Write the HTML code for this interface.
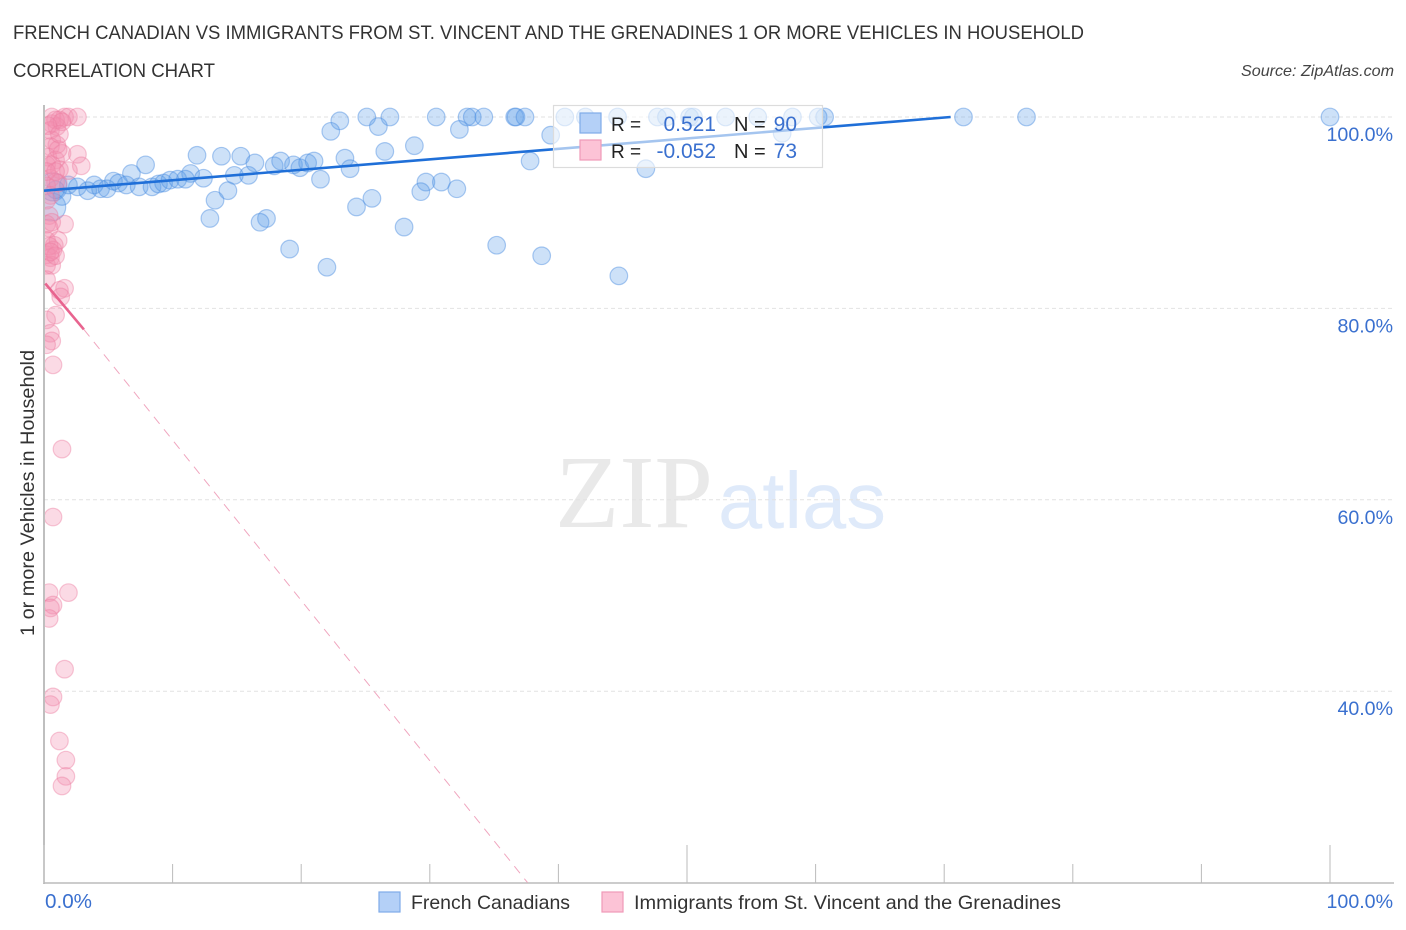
<!DOCTYPE html>
<html lang="en">
<head>
<meta charset="utf-8">
<title>French Canadian vs Immigrants Correlation Chart</title>
<style>
html,body{margin:0;padding:0;background:#fff;width:1406px;height:930px;overflow:hidden}
svg{display:block;font-family:"Liberation Sans",sans-serif}
</style>
</head>
<body>
<svg id="chart" width="1406" height="930" viewBox="0 0 1406 930">
  <defs>
    <clipPath id="plot-clip"><rect x="45" y="90" width="1361" height="793"/></clipPath>
  </defs>
  <text x="13" y="39" font-size="19" fill="#333" textLength="1071" lengthAdjust="spacingAndGlyphs">FRENCH CANADIAN VS IMMIGRANTS FROM ST. VINCENT AND THE GRENADINES 1 OR MORE VEHICLES IN HOUSEHOLD</text>
  <text x="13" y="77" font-size="19" fill="#333" textLength="202" lengthAdjust="spacingAndGlyphs">CORRELATION CHART</text>
  <text x="1394" y="76" font-size="16" font-style="italic" fill="#444" text-anchor="end" textLength="153" lengthAdjust="spacingAndGlyphs">Source: ZipAtlas.com</text>

  <g>
    <text x="555" y="527" font-family="'Liberation Serif',serif" font-size="104" fill="#e9e9e9" textLength="158" lengthAdjust="spacingAndGlyphs">ZIP</text>
    <text x="718" y="528" font-family="'Liberation Sans',sans-serif" font-size="80" fill="#dfeafa" textLength="168" lengthAdjust="spacingAndGlyphs">atlas</text>
  </g>

  <g id="grid"></g>
  <g id="axes"></g>
  <g id="blue-points" clip-path="url(#plot-clip)"></g>
  <g id="pink-points" clip-path="url(#plot-clip)"></g>
  <g id="trends"></g>

  <g>
    <rect x="553.5" y="105.5" width="269" height="62" fill="#fff" fill-opacity="0.6" stroke="#dcdcdc" stroke-width="1.2"/>
    <rect x="580" y="113" width="21" height="20" fill="#b4d0f7" stroke="#7fabe8" stroke-width="1.2"/>
    <rect x="580" y="140" width="21" height="20" fill="#fcc3d6" stroke="#f09ab8" stroke-width="1.2"/>
    <text x="611" y="131" font-size="19" fill="#222">R =</text>
    <text x="716" y="131" font-size="21" fill="#3a70cf" text-anchor="end">0.521</text>
    <text x="734" y="131" font-size="20" fill="#222">N =</text>
    <text x="797" y="131" font-size="21" fill="#3a70cf" text-anchor="end">90</text>
    <text x="611" y="158" font-size="19" fill="#222">R =</text>
    <text x="716" y="158" font-size="21" fill="#3a70cf" text-anchor="end">-0.052</text>
    <text x="734" y="158" font-size="20" fill="#222">N =</text>
    <text x="797" y="158" font-size="21" fill="#3a70cf" text-anchor="end">73</text>
  </g>

  <text transform="translate(34,493) rotate(-90)" font-size="19" fill="#333" text-anchor="middle" textLength="286" lengthAdjust="spacingAndGlyphs">1 or more Vehicles in Household</text>

  <g id="tick-labels"></g>

  <g>
    <g>
      <rect x="379" y="892" width="21" height="20" fill="#b4d0f7" stroke="#7fabe8" stroke-width="1.2"/>
      <text x="411" y="909" font-size="19.5" fill="#333" textLength="159" lengthAdjust="spacingAndGlyphs">French Canadians</text>
    </g>
    <g>
      <rect x="602" y="892" width="21" height="20" fill="#fcc3d6" stroke="#f09ab8" stroke-width="1.2"/>
      <text x="634" y="909" font-size="19.5" fill="#333" textLength="427" lengthAdjust="spacingAndGlyphs">Immigrants from St. Vincent and the Grenadines</text>
    </g>
  </g>
</svg>

<script>
const blueX = [25.1,26.9,30.5,32.9,33.3,34.2,36.6,36.7,37.4,40.5,42.1,44.6,47.7,48.4,50.2,50.5,53.0,55.5,58.2,60.2,60.7,71.5,76.4,100,
  23.0,22.3,26.0,32.3,39.4,26.5,28.8,37.8,46.8,57.4,29.7,29.3,30.9,32.1,25.5,24.3,28.0,35.2,38.7,44.7,23.4,23.8,
  11.9,13.8,15.3,16.4,14.8,15.9,17.9,18.4,19.4,19.9,20.5,21.0,21.5,7.9,6.8,5.4,3.9,11.4,12.4,13.3,14.3,12.9,17.3,16.8,19.1,22.0,
  1.4,1.9,2.6,3.4,4.4,4.9,5.8,6.4,7.4,8.4,8.9,9.3,9.8,10.4,11.0,0.9];
const blueY = [100,100,100,100,100,100,100,100,100,100,100,100,100,100,100,100,100,100,100,100,100,100,100,100,
  99.6,98.5,99.0,98.7,98.1,96.4,97.0,95.4,94.6,98.3,93.2,92.2,93.2,92.5,91.5,90.6,88.5,86.6,85.5,83.4,95.7,94.6,
  96.0,95.9,95.9,95.2,93.9,93.9,94.9,95.4,95.0,94.7,95.2,95.4,93.5,95.0,94.1,93.3,92.9,94.1,93.6,91.3,92.3,89.4,89.4,89.0,86.2,84.3,
  91.7,92.9,92.7,92.3,92.5,92.5,93.1,92.9,92.7,92.7,93.0,93.1,93.4,93.5,93.5,92.4];
const blueLargeX = [0.6, 0.7];
const blueLargeY = [90.6, 92.7];

const pinkX = [0.6,1.6,1.9,2.6,1.2,0.6,1.0,0.5,0.6,1.0,0.5,0.3,0.9,1.4,2.6,2.9,0.2,0.6,1.2,1.9,0.5,0.9,0.2,1.1,0.5,0.2,0.4,0.2,1.6,0.4,0.2,1.1,0.8,0.7,0.2,0.5,0.2,0.6,1.6,1.2,1.3,0.2,0.9,0.2,0.5,0.6,0.2,0.7,1.4,0.7,0.4,1.9,0.7,0.5,0.4,1.6,0.7,0.5,1.2,1.7,1.7,1.4,
  0.9,1.4,0.3,1.1,0.2,0.6,0.4,0.9,0.5,1.2,0.9];
const pinkY = [100,100,100,100,99.7,99.3,99.0,98.6,97.6,97.1,96.9,95.8,95.5,96.2,96.1,94.9,95.0,95.0,94.5,94.4,93.6,93.2,92.8,93.1,91.8,91.3,89.7,88.8,88.8,88.4,87.1,87.1,86.6,86.1,85.6,85.3,84.5,84.5,82.1,81.9,81.2,83.0,79.3,78.8,77.4,76.6,76.2,74.1,65.3,58.2,50.3,50.3,49.0,48.7,47.6,42.3,39.4,38.6,34.8,32.8,31.1,30.1,
  99.7,99.5,99.1,96.6,94.3,89.0,86.5,85.5,85.9,98.2,94.3];

const blueTrendX = [0, 70.5];
const blueTrendY = [92.3, 100];
const pinkSolidX = [0.1, 3.1];
const pinkSolidY = [82.6, 77.8];
const pinkDashX = [3.1, 37.6];
const pinkDashY = [77.8, 20];

const yTickValues = [100, 80, 60, 40];
const yTickLabels = ["100.0%", "80.0%", "60.0%", "40.0%"];
const xTickValues = [0, 10, 20, 30, 40, 50, 60, 70, 80, 90, 100];
const xMajorTicks = [0, 50, 100];
const xEdgeLabels = ["0.0%", "100.0%"];

const NS = "http://www.w3.org/2000/svg";
const xScale = v => 44 + v * 12.86;
const yScale = v => 117 + (100 - v) * 9.57;
function make(tag, parent, props) {
  const el = document.createElementNS(NS, tag);
  for (const k in props) el.setAttribute(k, props[k]);
  parent.appendChild(el);
  return el;
}

const grid = document.getElementById("grid");
yTickValues.forEach(v => {
  const line = make("line", grid, {x1: 44, x2: 1394, y1: yScale(v), y2: yScale(v), stroke: "#e2e2e2", "stroke-width": 1, "stroke-dasharray": "4 3"});
  
  
});

const axes = document.getElementById("axes");
const yAxis = make("line", axes, {x1: 44, x2: 44, y1: 105, y2: 884, stroke: "#aaaaaa", "stroke-width": 1.5});


const xAxis = make("line", axes, {x1: 44, x2: 1394, y1: 883, y2: 883, stroke: "#bbbbbb", "stroke-width": 1.5});


xTickValues.forEach(v => {
  const top = xMajorTicks.includes(v) ? 845 : 864;
  const tick = make("line", axes, {x1: xScale(v), x2: xScale(v), y1: top, y2: 883, stroke: "#bbbbbb", "stroke-width": 1});
  
  
});

const labels = document.getElementById("tick-labels");
yTickValues.forEach((v, i) => {
  const t = make("text", labels, {x: 1393, y: yScale(v) + 24, "font-size": 19.6, fill: "#3a70cf", "text-anchor": "end"});
  t.textContent = yTickLabels[i];
  
  
});
const xLabelLeft = make("text", labels, {x: 45, y: 908, "font-size": 20, fill: "#3a70cf", textLength: 47, lengthAdjust: "spacingAndGlyphs"});
xLabelLeft.textContent = xEdgeLabels[0];


const xLabelRight = make("text", labels, {x: 1393, y: 908, "font-size": 19.6, fill: "#3a70cf", "text-anchor": "end"});
xLabelRight.textContent = xEdgeLabels[1];



const blueGroup = document.getElementById("blue-points");
const blueStyle = {fill: "#5a9be8", "fill-opacity": 0.3, stroke: "#4a8ce0", "stroke-opacity": 0.45, "stroke-width": 1.2};
blueLargeX.forEach((x, i) => {
  const c = make("circle", blueGroup, Object.assign({cx: xScale(x), cy: yScale(blueLargeY[i]), r: 14}, blueStyle));
  
  
});
blueX.forEach((x, i) => {
  const c = make("circle", blueGroup, Object.assign({cx: xScale(x), cy: yScale(blueY[i]), r: 8.8}, blueStyle));
  
  
});

const pinkGroup = document.getElementById("pink-points");
pinkX.forEach((x, i) => {
  const c = make("circle", pinkGroup, {cx: xScale(x), cy: yScale(pinkY[i]), r: 8.8, fill: "#f48fb1", "fill-opacity": 0.33, stroke: "#ec7ba0", "stroke-opacity": 0.42, "stroke-width": 1.2});
  
  
});

const trends = document.getElementById("trends");
const blueLine = make("line", trends, {x1: xScale(blueTrendX[0]), y1: yScale(blueTrendY[0]), x2: xScale(blueTrendX[1]), y2: yScale(blueTrendY[1]), stroke: "#1f6fd8", "stroke-width": 2.6});


const pinkLine = make("line", trends, {x1: xScale(pinkSolidX[0]), y1: yScale(pinkSolidY[0]), x2: xScale(pinkSolidX[1]), y2: yScale(pinkSolidY[1]), stroke: "#e8648f", "stroke-width": 2.6});


const pinkDash = make("line", trends, {x1: xScale(pinkDashX[0]), y1: yScale(pinkDashY[0]), x2: xScale(pinkDashX[1]), y2: yScale(pinkDashY[1]), stroke: "#f0a6bf", "stroke-width": 1, "stroke-dasharray": "9 7"});


</script>
</body>
</html>
